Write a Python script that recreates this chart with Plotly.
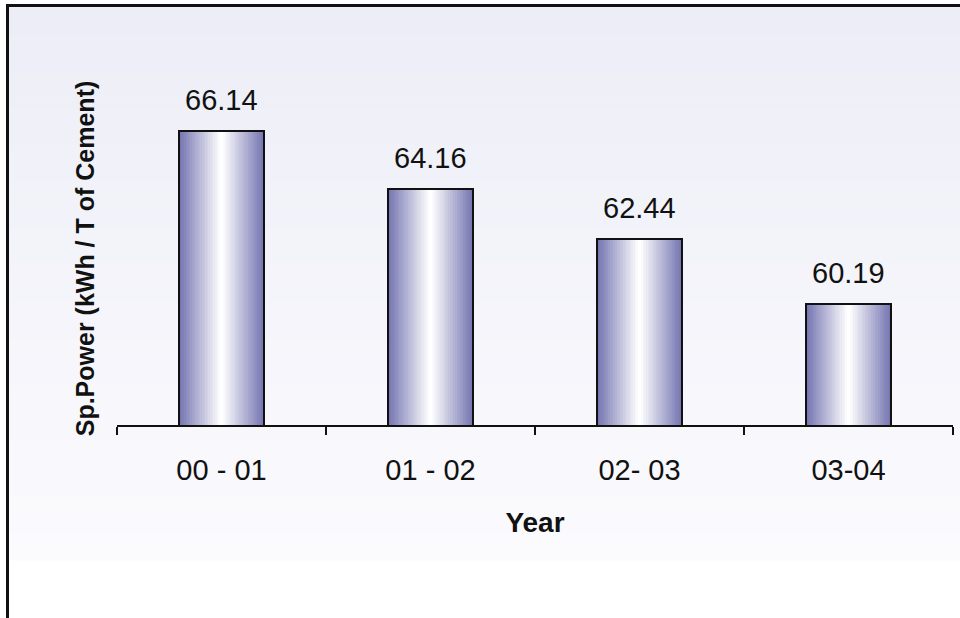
import plotly.graph_objects as go

# ---- data ----
years = ["00 - 01", "01 - 02", "02- 03", "03-04"]
sp_power = [66.14, 64.16, 62.44, 60.19]

# ---- layout geometry (pixels) ----
W, H = 960, 618
ML, MR, MT, MB = 117, 7, 92, 193
PW = W - ML - MR
PH = H - MT - MB

def px(xp):
    return (xp - ML) / PW

def py(yp):
    return (H - MB - yp) / PH

FONT = "Arial, Liberation Sans, Helvetica, sans-serif"

fig = go.Figure()

# gradient bars via overlaid bars of decreasing width
N = 26
BAR_W = 0.407
edge = (118, 118, 178)
for i in range(N):
    t = i / (N - 1)
    w = BAR_W * (1 - i / N)
    c = tuple(round(edge[k] + (255 - edge[k]) * t) for k in range(3))
    fig.add_trace(go.Bar(
        x=years, y=sp_power, width=w,
        marker=dict(color=f"rgb{c}", line=dict(width=0)),
        hoverinfo="skip", showlegend=False,
    ))

# outline
fig.add_trace(go.Bar(
    x=years, y=sp_power, width=BAR_W,
    marker=dict(color="rgba(0,0,0,0)", line=dict(color="#111111", width=2)),
    showlegend=False, name="Sp.Power",
))

# data labels
annotations = [
    dict(x=yr, y=v, text=f"{v:.2f}", showarrow=False, yanchor="bottom",
         yshift=13, font=dict(family=FONT, size=29, color="#111111"))
    for yr, v in zip(years, sp_power)
]

# background gradient strips
shapes = []
top_c = (237, 237, 247)
bot_c = (251, 251, 254)
y0, y1 = 7, 560
S = 60
for i in range(S):
    a = y0 + (y1 - y0) * i / S
    b = y0 + (y1 - y0) * (i + 1) / S + 0.6
    t = i / (S - 1)
    c = tuple(round(top_c[k] + (bot_c[k] - top_c[k]) * t) for k in range(3))
    shapes.append(dict(type="rect", xref="paper", yref="paper", layer="below",
                       x0=px(8), x1=px(960), y0=py(b), y1=py(a),
                       fillcolor=f"rgb{c}", line=dict(width=0)))
# frame lines
shapes.append(dict(type="line", xref="paper", yref="paper", layer="above",
                   x0=px(6), x1=px(962), y0=py(5.5), y1=py(5.5),
                   line=dict(color="#111111", width=3)))
shapes.append(dict(type="line", xref="paper", yref="paper", layer="above",
                   x0=px(7.5), x1=px(7.5), y0=py(4), y1=py(620),
                   line=dict(color="#111111", width=3)))

fig.update_layout(
    width=W, height=H,
    margin=dict(l=ML, r=MR, t=MT, b=MB, autoexpand=False),
    paper_bgcolor="white", plot_bgcolor="rgba(0,0,0,0)",
    barmode="overlay", bargap=0,
    shapes=shapes, annotations=annotations,
    font=dict(family=FONT, color="#111111"),
    xaxis=dict(
        type="category", categoryorder="array", categoryarray=years,
        range=[-0.5, 3.5], showgrid=False, zeroline=False,
        showline=True, linecolor="#111111", linewidth=2,
        ticks="outside", tickson="boundaries", ticklen=8, tickwidth=2,
        tickcolor="#111111",
        tickfont=dict(family=FONT, size=29, color="#111111"),
        ticklabelstandoff=18,
        title=dict(text="<b>Year</b>", font=dict(family=FONT, size=28, color="#111111"),
                   standoff=28),
    ),
    yaxis=dict(
        range=[56, 67.5], showgrid=False, zeroline=False, showline=False,
        showticklabels=False, ticks="",
        title=dict(text="<b>Sp.Power (kWh / T of Cement)</b>",
                   font=dict(family=FONT, size=25, color="#111111"), standoff=14),
    ),
)

fig.write_html("out.html")
